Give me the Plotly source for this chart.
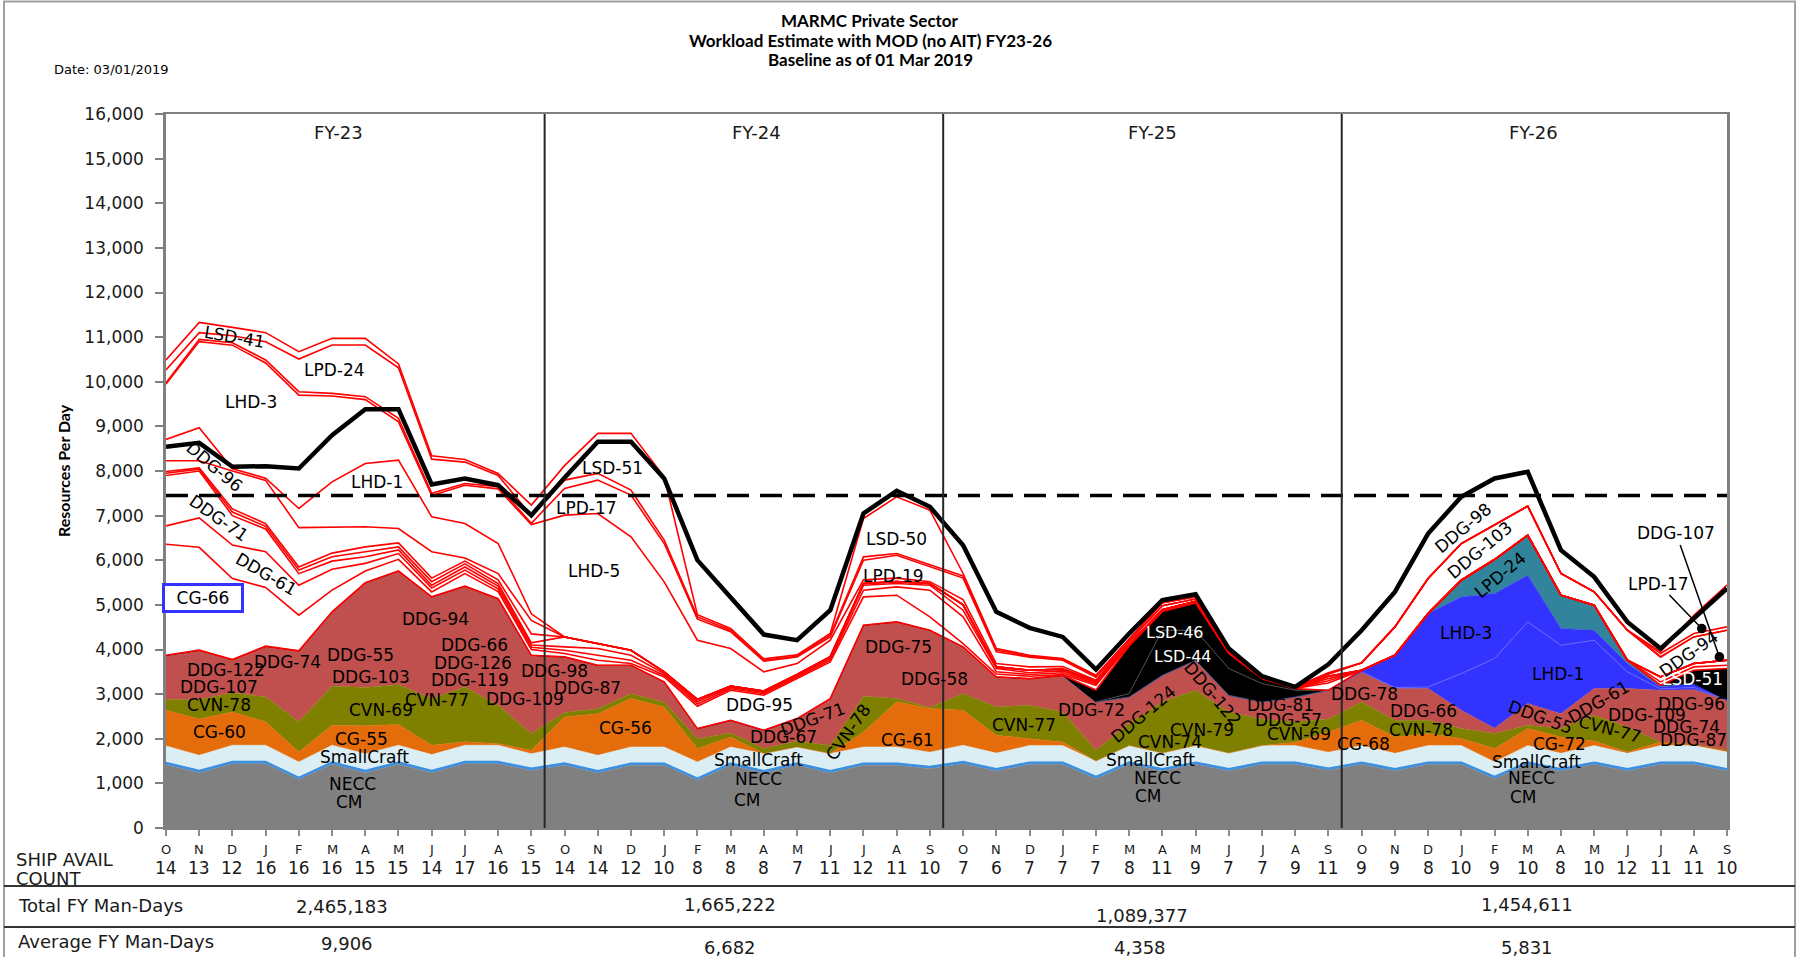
import numpy as np
import plotly.graph_objects as go

# ---------------------------------------------------------------- data
months = ["O", "N", "D", "J", "F", "M", "A", "M", "J", "J", "A", "S",
          "O", "N", "D", "J", "F", "M", "A", "M", "J", "J", "A", "S",
          "O", "N", "D", "J", "F", "M", "A", "M", "J", "J", "A", "S",
          "O", "N", "D", "J", "F", "M", "A", "M", "J", "J", "A", "S"]
ship_avail_count = [14, 13, 12, 16, 16, 16, 15, 15, 14, 17, 16, 15,
                    14, 14, 12, 10, 8, 8, 8, 7, 11, 12, 11, 10,
                    7, 6, 7, 7, 7, 8, 11, 9, 7, 7, 9, 11,
                    9, 9, 8, 10, 9, 10, 8, 10, 12, 11, 11, 10]
fiscal_years = ["FY-23", "FY-24", "FY-25", "FY-26"]
total_fy_man_days = ["2,465,183", "1,665,222", "1,089,377", "1,454,611"]
average_fy_man_days = ["9,906", "6,682", "4,358", "5,831"]
capacity_threshold = 7450

# stacked levels (cumulative tops, resources per day)
cm_top = [1420, 1240, 1440, 1440, 1085, 1430, 1240, 1430, 1240, 1440, 1440, 1290,
          1405, 1235, 1405, 1405, 1070, 1405, 1235, 1405, 1235, 1405, 1405, 1330,
          1440, 1278, 1427, 1427, 1106, 1427, 1278, 1427, 1278, 1427, 1427, 1293,
          1427, 1278, 1427, 1427, 1106, 1427, 1278, 1427, 1278, 1427, 1427, 1278]
necc_top = [1465, 1285, 1485, 1485, 1130, 1475, 1285, 1475, 1285, 1485, 1485, 1335,
            1450, 1280, 1450, 1450, 1115, 1450, 1280, 1450, 1280, 1450, 1450, 1375,
            1485, 1323, 1472, 1472, 1151, 1472, 1323, 1472, 1323, 1472, 1472, 1338,
            1472, 1323, 1472, 1472, 1151, 1472, 1323, 1472, 1323, 1472, 1472, 1323]
smallcraft_top = [1840, 1630, 1855, 1855, 1480, 1855, 1665, 1855, 1645, 1855, 1855, 1665,
                  1816, 1630, 1816, 1816, 1480, 1816, 1667, 1816, 1667, 1816, 1816, 1700,
                  1855, 1678, 1847, 1847, 1501, 1847, 1678, 1847, 1678, 1847, 1847, 1698,
                  1847, 1673, 1847, 1847, 1481, 1847, 1673, 1847, 1673, 1847, 1847, 1703]
cg_top = [2640, 2440, 2600, 2380, 1705, 2300, 2290, 2320, 1855, 1930, 1890, 1740,
          2490, 2560, 2900, 2710, 1780, 2040, 1667, 1816, 1667, 2150, 2830, 2680,
          2638, 2080, 2000, 1928, 1501, 1847, 1678, 1847, 1678, 1847, 1920, 2150,
          2414, 2040, 2115, 2003, 1779, 2227, 2040, 1947, 1703, 1927, 1877, 1743]
cvn_top = [2880, 2880, 3030, 2940, 2380, 3180, 3150, 3210, 2900, 3160, 2750, 2120,
           2590, 2670, 3010, 2820, 2000, 2130, 1780, 1950, 1850, 2950, 2900, 2700,
           3012, 2713, 2750, 2601, 1740, 2340, 2825, 3087, 2600, 2440, 2380, 2440,
           2825, 2414, 2414, 2227, 2115, 2302, 2227, 2526, 2265, 1927, 1877, 1743]
ddg_top = [3870, 3985, 3775, 4075, 3970, 4845, 5495, 5760, 5180, 5420, 5140, 3870,
           3834, 3647, 3647, 3274, 2227, 2414, 2190, 2451, 2900, 4544, 4619, 4432,
           4058, 3386, 3348, 3420, 2825, 2937, 3423, 3759, 2975, 2825, 2937, 3087,
           3498, 3124, 3124, 2638, 2235, 2788, 2563, 3124, 3124, 3087, 3100, 2862]

# individual ship layers stacked on top of the DDG block
lhd1 = [0] * 36 + [0, 26, 36, 822, 1562, 1831, 1533, 1084, 374, 33, 50, 0]
lhd3 = [0] * 36 + [37, 722, 1646, 1719, 1457, 1046, 373, 224, 187, 41, 90, 0]
lpd24 = [0] * 36 + [0, 0, 0, 374, 762, 897, 748, 561, 74, 38, 0, 0]
lsd44 = [0] * 28 + [0, 75, 1009, 673, 598, 411, 150, 0] + [0] * 12
lsd46 = [0] * 28 + [270, 1068, 418, 608, 336, 114, 33, 0] + [0] * 12
lsd51 = [0] * 46 + [295, 711]

# white (red-outlined) availabilities: cumulative outline levels
white_1 = ([6360, 6290, 5590, 5390, 4770, 5330, 5760, 6020, 5290, 5700, 5300, 4000]
           + [3909, 3759, 3685, 3386, 2728, 3087, 2975, 3349, 3722, 5179, 5217, 4731]
           + [4133, 3450, 3400, 3440, 3199, 4110, 4890, 5075, 3930, 3360, 3130, 3250]
           + [3535, 3872, 4806, 5553, 6016, 6562, 5217, 4993, 3759, 3274, 3610, 3647])
white_2 = ([6770, 6950, 6340, 6190, 5440, 5800, 5930, 6150, 5380, 5780, 5360, 4050]
           + [3984, 3871, 3759, 3423, 2780, 3120, 3010, 3380, 3760, 5329, 5404, 5329]
           + [4731, 3500, 3440, 3480, 3230, 4110, 4890, 5075, 3930, 3360, 3130, 3300]
           + [3535, 3872, 4806, 5553, 6016, 6562, 5217, 4993, 3759, 3386, 3685, 3759])
white_3 = ([7900, 8000, 7000, 6700, 5700, 5980, 6080, 6230, 5440, 5850, 5420, 4100]
           + [4058, 4021, 3871, 3460, 2830, 3150, 3040, 3410, 3800, 5441, 5478, 5441]
           + [4880, 3572, 3480, 3520, 3260, 4110, 4890, 5075, 3930, 3360, 3130, 3348]
           + [3535, 3872, 4806, 5553, 6016, 6562, 5217, 4993, 3759, 3386, 3685, 3759])
white_4 = ([7950, 8040, 7080, 6760, 5780, 6080, 6190, 6300, 5520, 5920, 5480, 4150]
           + [4282, 4133, 3984, 3498, 2880, 3180, 3070, 3440, 3840, 5480, 5520, 5480]
           + [5000, 3610, 3535, 3560, 3290, 4110, 4890, 5075, 3930, 3360, 3130, 3400]
           + [3535, 3872, 4806, 5553, 6016, 6562, 5217, 4993, 3759, 3386, 3685, 3759])
white_5 = ([7990, 8070, 7150, 6820, 5850, 6160, 6300, 6390, 5600, 5980, 5560, 4350]
           + [4282, 4133, 3984, 3498, 2880, 3180, 3070, 3440, 3840, 5480, 5520, 5480]
           + [5000, 3610, 3535, 3560, 3290, 4110, 4890, 5075, 3930, 3360, 3130, 3400]
           + [3535, 3872, 4806, 5553, 6016, 6562, 5217, 4993, 3759, 3386, 3685, 3759])
white_6 = ([8230, 8230, 8000, 7790, 6730, 6740, 6750, 6712, 6190, 6050, 5700, 4650]
           + [4282, 4133, 3984, 3498, 2880, 3180, 3070, 3440, 3840, 5480, 5520, 5480]
           + [5000, 3610, 3535, 3560, 3290, 4110, 4890, 5075, 3930, 3360, 3130, 3400]
           + [3535, 3872, 4806, 5553, 6016, 6562, 5217, 4993, 3759, 3386, 3685, 3759])
white_7 = ([8707, 8968, 8050, 7840, 7160, 7757, 8168, 8243, 6973, 6824, 6376, 4800]
           + [4282, 4133, 3984, 3498, 2880, 3180, 3070, 3440, 3840, 5480, 5520, 5480]
           + [5000, 3610, 3535, 3560, 3290, 4110, 4890, 5075, 3930, 3360, 3130, 3400]
           + [3535, 3872, 4806, 5553, 6016, 6562, 5217, 4993, 3759, 3386, 3685, 3759])
white_8 = ([9950, 10900, 10820, 10420, 9700, 9680, 9600, 9100, 7450, 7680, 7600, 6800]
           + [7011, 7048, 6525, 5516, 4208, 4021, 3498, 3685, 4208, 5560, 5600, 5520]
           + [5120, 3685, 3610, 3620, 3311, 4180, 4980, 5130, 3990, 3380, 3150, 3445]
           + [3700, 4507, 5591, 6375, 6786, 7212, 5703, 5292, 4432, 3834, 4282, 4432])
white_9 = ([9978, 10950, 10875, 10487, 9777, 9740, 9665, 9180, 7500, 7720, 7650, 6830]
           + [7610, 7796, 7459, 6375, 4680, 4400, 3740, 3830, 4280, 6001, 6113, 5852]
           + [5600, 3950, 3830, 3760, 3380, 4180, 4980, 5130, 3990, 3380, 3150, 3460]
           + [3700, 4507, 5591, 6375, 6786, 7212, 5703, 5292, 4432, 3834, 4282, 4432])
white_10 = ([10262, 11100, 11032, 10898, 10509, 10823, 10823, 10314, 8266, 8200, 7900, 7000]
            + [7796, 7946, 7571, 6450, 4731, 4432, 3759, 3849, 4320, 6076, 6150, 5900]
            + [5650, 3990, 3850, 3780, 3400, 4230, 5050, 5180, 4010, 3390, 3160, 3470]
            + [3700, 4507, 5591, 6375, 6786, 7212, 5703, 5292, 4432, 3909, 4357, 4507])
white_11 = ([10486, 11331, 11219, 11100, 10673, 10972, 10972, 10398, 8341, 8259, 7945, 7236]
            + [8120, 8843, 8843, 7870, 4780, 4470, 3790, 3880, 4360, 6936, 7421, 7123]
            + [5703, 4021, 3872, 3800, 3423, 4230, 5050, 5180, 4010, 3390, 3160, 3480]
            + [3700, 4507, 5591, 6375, 6786, 7212, 5703, 5292, 4432, 3950, 4768, 5441])

# thick black line
black_line = [8541, 8631, 8093, 8108, 8056, 8803, 9386, 9386, 7697, 7832, 7682, 7009,
              7850, 8655, 8655, 7833, 6002, 5179, 4335, 4208, 4880, 7048, 7556, 7197,
              6338, 4843, 4484, 4282, 3550, 4357, 5105, 5239, 4021, 3401, 3161, 3669,
              4432, 5291, 6599, 7422, 7833, 7982, 6226, 5628, 4619, 4021, 4694, 5366]

# ---------------------------------------------------------------- geometry helpers
L, R, T, B = 166, 1727, 114, 828
W, H = R - L, B - T


def xp(px):
    return (px - L) / W


def yp(py):
    return (B - py) / H


n = len(months)
x = list(range(n))

# build the stack
ddg = np.array(ddg_top, float)
lhd1_top = ddg + np.array(lhd1)
lhd3_top = lhd1_top + np.array(lhd3)
lpd_top = lhd3_top + np.array(lpd24)
lsd44_top = lpd_top + np.array(lsd44)
lsd46_top = lsd44_top + np.array(lsd46)
lsd51_top = lsd46_top + np.array(lsd51)

colored = [
    (cm_top, "#808080"),
    (necc_top, "#3d8fe0"),
    (smallcraft_top, "#dbeef4"),
    (cg_top, "#e46c0a"),
    (cvn_top, "#7f7f00"),
    (ddg_top, "#c0504d"),
    (lhd1_top, "#3333ff"),
    (lhd3_top, "#3333ff"),
    (lpd_top, "#31849b"),
    (lsd44_top, "#000000"),
    (lsd46_top, "#000000"),
    (lsd51_top, "#000000"),
]
whites = [white_1, white_2, white_3, white_4, white_5, white_6, white_7,
          white_8, white_9, white_10, white_11]

levels = np.array([np.array(a, float) for a, _ in colored] + [np.array(w, float) for w in whites])
levels = np.maximum.accumulate(levels, axis=0)
n_col = len(colored)

fig = go.Figure()
fig.add_trace(go.Scatter(x=x, y=[0] * n, mode="lines", line=dict(width=0),
                         showlegend=False, hoverinfo="skip"))
for k, (_, col) in enumerate(colored):
    fig.add_trace(go.Scatter(x=x, y=levels[k], mode="lines", fill="tonexty",
                             fillcolor=col, line=dict(width=0.5, color=col),
                             showlegend=False, hoverinfo="skip"))
for k in range(len(whites)):
    fig.add_trace(go.Scatter(x=x, y=levels[n_col + k], mode="lines", fill="tonexty",
                             fillcolor="#ffffff", line=dict(width=0),
                             showlegend=False, hoverinfo="skip"))


def masked(top, incr):
    incr = np.array(incr)
    out = []
    for i in range(n):
        nb = incr[max(i - 1, 0):min(i + 2, n)]
        out.append(top[i] if nb.max() > 0 else None)
    return out


# separator lines inside coloured blocks
fig.add_trace(go.Scatter(x=x, y=levels[1], mode="lines", line=dict(width=1.8, color="#3d8fe0"),
                         showlegend=False, hoverinfo="skip"))
fig.add_trace(go.Scatter(x=x, y=masked(levels[6], lhd1), mode="lines",
                         line=dict(width=0.8, color="#7070ff"), showlegend=False, hoverinfo="skip",
                         connectgaps=False))
fig.add_trace(go.Scatter(x=x, y=masked(levels[9], lsd44), mode="lines",
                         line=dict(width=0.8, color="#5a5a5a"), showlegend=False, hoverinfo="skip",
                         connectgaps=False))

# red outlines
for k in range(n_col - 1, n_col + len(whites)):
    fig.add_trace(go.Scatter(x=x, y=levels[k], mode="lines", line=dict(width=1.6, color="#ff0000"),
                             showlegend=False, hoverinfo="skip"))

# dashed threshold and black line
fig.add_trace(go.Scatter(x=[0, n - 1], y=[capacity_threshold] * 2, mode="lines",
                         line=dict(width=3.5, color="#000000", dash="22px,11px"),
                         showlegend=False, hoverinfo="skip"))
fig.add_trace(go.Scatter(x=x, y=black_line, mode="lines",
                         line=dict(width=4.5, color="#000000"),
                         showlegend=False, hoverinfo="skip"))

# ---------------------------------------------------------------- annotations
ann = []
LABEL_FONT = "DejaVu Sans"
LS = 17

ship_labels = [
    # FY23
    ("LSD-41", 2.06, 11008, 10, "black", LS), ("LPD-24", 5.07, 10262, 0, "black", LS),
    ("LHD-3", 2.57, 9551, 0, "black", LS), ("LHD-1", 6.35, 7757, 0, "black", LS),
    ("DDG-96", 1.47, 8094, 40, "black", LS), ("DDG-71", 1.58, 6936, 35, "black", LS),
    ("DDG-61", 3.02, 5703, 30, "black", LS), ("DDG-94", 8.1, 4694, 0, "black", LS),
    ("DDG-74", 3.66, 3722, 0, "black", LS), ("DDG-55", 5.86, 3880, 0, "black", LS),
    ("DDG-122", 1.8, 3540, 0, "black", LS), ("DDG-107", 1.6, 3150, 0, "black", LS),
    ("DDG-103", 6.16, 3380, 0, "black", LS), ("DDG-66", 9.3, 4090, 0, "black", LS),
    ("DDG-126", 9.25, 3700, 0, "black", LS), ("DDG-119", 9.15, 3310, 0, "black", LS),
    ("DDG-98", 11.7, 3510, 0, "black", LS), ("DDG-87", 12.7, 3146, 0, "black", LS),
    ("DDG-109", 10.8, 2885, 0, "black", LS), ("CVN-78", 1.6, 2750, 0, "black", LS),
    ("CVN-69", 6.48, 2638, 0, "black", LS), ("CVN-77", 8.17, 2877, 0, "black", LS),
    ("CG-60", 1.6, 2153, 0, "black", LS), ("CG-55", 5.9, 2003, 0, "black", LS),
    ("SmallCraft", 5.97, 1592, 0, "black", LS), ("NECC", 5.63, 994, 0, "black", LS),
    ("CM", 5.52, 583, 0, "black", LS),
    # FY24
    ("LSD-51", 13.44, 8057, 0, "black", LS), ("LPD-17", 12.66, 7160, 0, "black", LS),
    ("LHD-5", 12.88, 5762, 0, "black", LS), ("LSD-50", 21.99, 6472, 0, "black", LS),
    ("LPD-19", 21.91, 5650, 0, "black", LS), ("DDG-75", 22.04, 4058, 0, "black", LS),
    ("DDG-58", 23.15, 3348, 0, "black", LS), ("DDG-95", 17.88, 2750, 0, "black", LS),
    ("DDG-67", 18.58, 2040, 0, "black", LS), ("DDG-71", 19.48, 2451, -20, "black", LS),
    ("CVN-78", 20.54, 2153, -55, "black", LS), ("CG-56", 13.84, 2250, 0, "black", LS),
    ("CG-61", 22.34, 1966, 0, "black", LS), ("SmallCraft", 17.83, 1517, 0, "black", LS),
    ("NECC", 17.83, 1106, 0, "black", LS), ("CM", 17.52, 620, 0, "black", LS),
    # FY25
    ("LSD-46", 30.38, 4370, 0, "white", 16), ("LSD-44", 30.61, 3840, 0, "white", 16),
    ("DDG-72", 27.87, 2638, 0, "black", LS), ("DDG-124", 29.42, 2563, -40, "black", LS),
    ("DDG-122", 31.53, 3012, 50, "black", LS), ("DDG-81", 33.56, 2750, 0, "black", LS),
    ("DDG-57", 33.79, 2414, 0, "black", LS), ("CVN-77", 25.83, 2302, 0, "black", LS),
    ("CVN-79", 31.18, 2190, 0, "black", LS), ("CVN-74", 30.23, 1928, 0, "black", LS),
    ("CVN-69", 34.12, 2115, 0, "black", LS), ("CG-68", 36.05, 1891, 0, "black", LS),
    ("SmallCraft", 29.64, 1517, 0, "black", LS), ("NECC", 29.84, 1121, 0, "black", LS),
    ("CM", 29.57, 710, 0, "black", LS),
    # FY26
    ("DDG-78", 36.1, 3012, 0, "black", LS), ("DDG-98", 39.06, 6712, -40, "black", LS),
    ("DDG-103", 39.56, 6226, -40, "black", LS), ("LPD-24", 40.17, 5665, -40, "black", LS),
    ("LHD-3", 39.15, 4380, 0, "black", LS), ("LHD-1", 41.92, 3445, 0, "black", LS),
    ("DDG-66", 37.85, 2615, 0, "black", LS), ("CVN-78", 37.8, 2190, 0, "black", LS),
    ("DDG-55", 41.37, 2489, 20, "black", LS), ("DDG-61", 43.13, 2825, -30, "black", LS),
    ("CVN-77", 43.48, 2227, 15, "black", LS), ("CG-72", 41.97, 1891, 0, "black", LS),
    ("DDG-109", 44.58, 2540, 0, "black", LS), ("DDG-96", 45.94, 2773, 0, "black", LS),
    ("DDG-74", 45.79, 2265, 0, "black", LS), ("DDG-87", 45.98, 1980, 0, "black", LS),
    ("LSD-51", 45.95, 3348, 0, "white", LS), ("DDG-94", 45.84, 3909, -35, "black", LS),
    ("SmallCraft", 41.27, 1480, 0, "black", LS), ("NECC", 41.12, 1121, 0, "black", LS),
    ("CM", 40.87, 695, 0, "black", LS),
]
for text, lx, ly, ang, col, fs in ship_labels:
    ann.append(dict(text=text, x=lx, y=ly, xref="x", yref="y", showarrow=False,
                    xanchor="center", yanchor="middle",
                    textangle=ang, font=dict(family=LABEL_FONT, size=fs, color=col)))

# boxed CG-66
ann.append(dict(text="CG-66", x=1.12, y=5150, xref="x", yref="y", showarrow=False,
                xanchor="center", yanchor="middle",
                font=dict(family=LABEL_FONT, size=LS, color="black"),
                bordercolor="#3333ff", borderwidth=3, borderpad=2, width=72, bgcolor="white"))

# pointer labels
ann.append(dict(text="LPD-17", x=46.24, y=4470, xref="x", yref="y", ax=44.93, ay=5478,
                axref="x", ayref="y", showarrow=True, arrowhead=6, arrowsize=1.6,
                arrowwidth=1.5, arrowcolor="black",
                font=dict(family=LABEL_FONT, size=LS, color="black")))
ann.append(dict(text="DDG-107", x=46.77, y=3834, xref="x", yref="y", ax=45.47, ay=6600,
                axref="x", ayref="y", showarrow=True, arrowhead=6, arrowsize=1.6,
                arrowwidth=1.5, arrowcolor="black",
                font=dict(family=LABEL_FONT, size=LS, color="black")))

# fiscal-year headers
for fy, fx in zip(fiscal_years, [5.18, 17.78, 29.7, 41.16]):
    ann.append(dict(text=fy, x=fx, y=yp(132), xref="x", yref="paper", showarrow=False,
                    xanchor="center", yanchor="middle",
                    font=dict(family=LABEL_FONT, size=18, color="#1a1a1a")))

# month letters and availability counts
for i in range(n):
    ann.append(dict(text=months[i], x=i, y=yp(850), xref="x", yref="paper", showarrow=False,
                    xanchor="center", yanchor="middle",
                    font=dict(family=LABEL_FONT, size=13, color="#1a1a1a")))
    ann.append(dict(text=str(ship_avail_count[i]), x=i, y=yp(868), xref="x", yref="paper",
                    xanchor="center", yanchor="middle",
                    showarrow=False, font=dict(family=LABEL_FONT, size=17, color="#1a1a1a")))

# table texts
TF = dict(family=LABEL_FONT, size=18, color="#1a1a1a")
ann.append(dict(text="SHIP AVAIL", x=xp(14), y=yp(859), xref="paper", yref="paper",
                xanchor="left", yanchor="middle", showarrow=False, font=TF))
ann.append(dict(text="COUNT", x=xp(14), y=yp(878), xref="paper", yref="paper",
                xanchor="left", yanchor="middle", showarrow=False, font=TF))
ann.append(dict(text="Total FY Man-Days", x=xp(16), y=yp(905), xref="paper", yref="paper",
                xanchor="left", yanchor="middle", showarrow=False, font=TF))
ann.append(dict(text="Average FY Man-Days", x=xp(16), y=yp(942), xref="paper", yref="paper",
                xanchor="left", yanchor="middle", showarrow=False, font=TF))
VF = dict(family=LABEL_FONT, size=18, color="#1a1a1a")
for txt, cx, cy in zip(total_fy_man_days, [342, 730, 1142, 1527], [906, 904, 915, 904]):
    ann.append(dict(text=txt, x=xp(cx), y=yp(cy), xref="paper", yref="paper", showarrow=False,
                    xanchor="center", yanchor="middle", font=VF))
for txt, cx, cy in zip(average_fy_man_days, [347, 730, 1140, 1527], [943, 947, 947, 947]):
    ann.append(dict(text=txt, x=xp(cx), y=yp(cy), xref="paper", yref="paper", showarrow=False,
                    xanchor="center", yanchor="middle", font=VF))

# titles
for txt, ty in zip(["MARMC Private Sector", "Workload Estimate with MOD (no AIT) FY23-26",
                    "Baseline as of 01 Mar 2019"], [20.7, 40.2, 59.7]):
    ann.append(dict(text="<b>" + txt + "</b>", x=xp(870), y=yp(ty), xref="paper", yref="paper",
                    xanchor="center", yanchor="middle", showarrow=False,
                    font=dict(family="Lato", size=17, color="black")))
ann.append(dict(text="Date: 03/01/2019", x=xp(52), y=yp(69), xref="paper", yref="paper",
                xanchor="left", yanchor="middle", showarrow=False,
                font=dict(family=LABEL_FONT, size=13, color="black")))
ann.append(dict(text="<b>Resources Per Day</b>", x=xp(63), y=yp(471), xref="paper", yref="paper",
                xanchor="center", yanchor="middle",
                textangle=-90, showarrow=False, font=dict(family="Lato", size=16, color="black")))

# ---------------------------------------------------------------- shapes
shapes = []
for bx in [11.4, 23.4, 35.4]:
    shapes.append(dict(type="line", x0=bx, x1=bx, y0=0, y1=16000, xref="x", yref="y",
                       line=dict(color="#262626", width=2)))
shapes.append(dict(type="rect", x0=xp(4), x1=xp(1795), y0=yp(962), y1=yp(1.5),
                   xref="paper", yref="paper", line=dict(color="#a0a0a0", width=2)))
for ly in [886, 927]:
    shapes.append(dict(type="line", x0=xp(4), x1=xp(1795), y0=yp(ly), y1=yp(ly),
                       xref="paper", yref="paper", line=dict(color="#333333", width=2)))

fig.update_layout(
    width=1800, height=957, autosize=False,
    margin=dict(l=L, r=1800 - R, t=T, b=957 - B, pad=0),
    paper_bgcolor="white", plot_bgcolor="white",
    showlegend=False,
    annotations=ann, shapes=shapes,
    xaxis=dict(range=[0, n - 1], showgrid=False, zeroline=False, showticklabels=False,
               tickvals=x, ticks="outside", ticklen=6, tickcolor="#8c8c8c", tickwidth=1.5,
               showline=True, linecolor="#808080", linewidth=2, mirror=True, fixedrange=True),
    yaxis=dict(range=[0, 16000], showgrid=False, zeroline=False, tickvals=list(range(0, 16001, 1000)),
               tickformat=",d", ticks="outside", ticklen=8, tickcolor="#808080", tickwidth=1.5,
               ticklabelstandoff=8,
               tickfont=dict(family=LABEL_FONT, size=17, color="#1a1a1a"),
               showline=True, linecolor="#808080", linewidth=2.5, mirror=True, fixedrange=True),
)

fig.write_html("out.html", config={"displayModeBar": False},
               post_script="document.body.style.margin='0px';"
                           "document.documentElement.style.overflow='hidden';")
